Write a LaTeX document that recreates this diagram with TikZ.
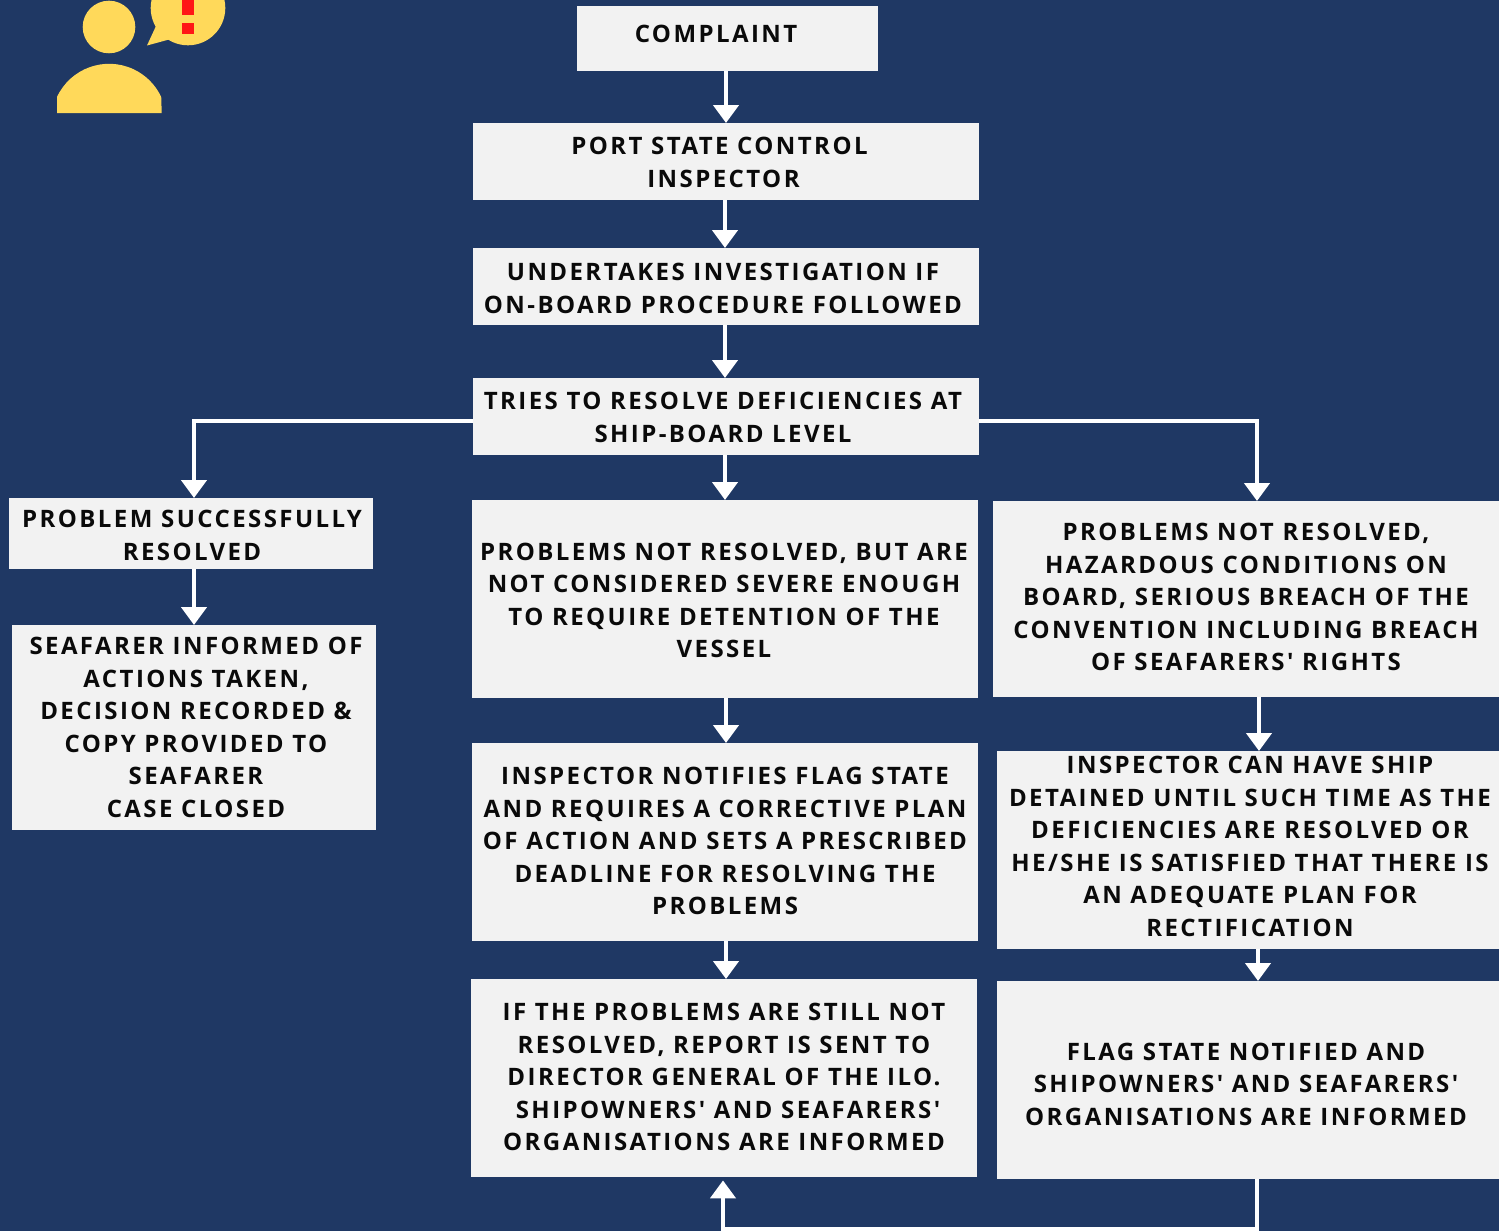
\documentclass[tikz,border=0pt]{standalone}
\usepackage{fontspec}
\setmainfont{Open Sans}[BoldFont={* Bold}]
\newfontfamily\lblfont{Open Sans Bold}[LetterSpace=10.1]
\usetikzlibrary{arrows.meta}
\definecolor{bgblue}{RGB}{31,56,100}
\definecolor{boxgrey}{RGB}{242,242,242}
\definecolor{iconyellow}{RGB}{255,217,90}
\definecolor{iconred}{RGB}{255,22,22}
\definecolor{inkblack}{RGB}{10,10,10}
\tikzset{
  boxnode/.style={fill=boxgrey,draw=none,inner sep=0pt,anchor=north west},
  txtnode/.style={text=inkblack,align=center,inner sep=0pt,yshift=-0.2pt,font=\lblfont\fontsize{24}{32.5}\selectfont},
  arr/.style={draw=white,line width=4.4pt,-{Triangle[width=25pt,length=18pt]}},
}
% name, x1, y1, x2, y2, text centre x, text centre y, text
\newcommand{\flowbox}[8]{%
  \pgfmathsetlengthmacro{\bw}{#4-#2}%
  \pgfmathsetlengthmacro{\bh}{#5-#3}%
  \node[boxnode,minimum width=\bw,minimum height=\bh] (#1) at (#2,#3) {};
  \node[txtnode] (#1-text) at (#6,#7) {#8};
}
\begin{document}
\begin{tikzpicture}[x=1pt,y=-1pt]
\useasboundingbox (0,0) rectangle (1499,1231);
\fill[bgblue] (0,0) rectangle (1499,1231);
% icon
\begin{scope}
\clip (0,0) rectangle (1499,1231);
\fill[iconyellow] (109,27) circle[radius=26.3];
\fill[iconyellow] (57,113) -- (57,97) arc[start angle=-155,end angle=-25,x radius=57.5,y radius=57.5] -- (161.7,113) -- cycle;
\fill[iconyellow] (188,8) circle[radius=37.3];
\fill[iconyellow] (156,26) -- (147,45.5) -- (169,39.5) -- cycle;
\fill[iconred] (182,0) rectangle (194,15.5);
\fill[iconred] (182,23) rectangle (194,34.5);
\end{scope}
% boxes
\flowbox{complaint}{577}{6}{878}{71}{716}{34}{COMPLAINT}
\flowbox{psc}{473}{123}{979}{200}{719.5}{162}{PORT STATE CONTROL\\\hspace*{8pt}INSPECTOR}
\flowbox{investigate}{473}{248}{979}{325}{723}{288}{UNDERTAKES INVESTIGATION IF\\ON-BOARD PROCEDURE FOLLOWED}
\flowbox{tries}{473}{378}{979}{455}{723}{417}{TRIES TO RESOLVE DEFICIENCIES AT\\SHIP-BOARD LEVEL}
\flowbox{solved}{9}{498}{373}{569}{192}{535}{PROBLEM SUCCESSFULLY\\RESOLVED}
\flowbox{informed}{12}{625}{376}{830}{196}{727}{SEAFARER INFORMED OF\\ACTIONS TAKEN,\\DECISION RECORDED \&\\COPY PROVIDED TO\\SEAFARER\\CASE CLOSED}
\flowbox{notsevere}{472}{500}{978}{698}{724}{600}{PROBLEMS NOT RESOLVED, BUT ARE\\NOT CONSIDERED SEVERE ENOUGH\\TO REQUIRE DETENTION OF THE\\VESSEL}
\flowbox{notifies}{472}{743}{978}{941}{725}{841}{INSPECTOR NOTIFIES FLAG STATE\\AND REQUIRES A CORRECTIVE PLAN\\OF ACTION AND SETS A PRESCRIBED\\DEADLINE FOR RESOLVING THE\\PROBLEMS}
\flowbox{report}{471}{979}{977}{1177}{724}{1077}{IF THE PROBLEMS ARE STILL NOT\\RESOLVED, REPORT IS SENT TO\\DIRECTOR GENERAL OF THE ILO.\\\hspace*{8pt}SHIPOWNERS' AND SEAFARERS'\\ORGANISATIONS ARE INFORMED}
\flowbox{hazard}{993}{501}{1499}{697}{1246}{597}{PROBLEMS NOT RESOLVED,\\HAZARDOUS CONDITIONS ON\\BOARD, SERIOUS BREACH OF THE\\CONVENTION INCLUDING BREACH\\OF SEAFARERS' RIGHTS}
\flowbox{detained}{997}{751}{1499}{949}{1250}{846}{INSPECTOR CAN HAVE SHIP\\DETAINED UNTIL SUCH TIME AS THE\\DEFICIENCIES ARE RESOLVED OR\\HE/SHE IS SATISFIED THAT THERE IS\\AN ADEQUATE PLAN FOR\\RECTIFICATION}
\flowbox{flagstate}{997}{981}{1499}{1179}{1246}{1084}{FLAG STATE NOTIFIED AND\\SHIPOWNERS' AND SEAFARERS'\\ORGANISATIONS ARE INFORMED}
% connectors
\coordinate (lefttop) at (194,421);
\coordinate (righttop) at (1257,421);
\coordinate (botright) at (1257,1229.5);
\coordinate (botleft) at (723,1229.5);
\draw[arr] (complaint.south -| 726,0) -- (psc.north -| 726,0);
\draw[arr] (psc.south -| 725,0) -- (investigate.north -| 725,0);
\draw[arr] (investigate.south -| 725,0) -- (tries.north -| 725,0);
\draw[arr] (tries.south -| 725,0) -- (notsevere.north -| 725,0);
\draw[arr] (tries.west |- lefttop) -- (lefttop) -- (solved.north -| lefttop);
\draw[arr] (tries.east |- righttop) -- (righttop) -- (hazard.north -| righttop);
\draw[arr] (solved.south -| 194,0) -- (informed.north -| 194,0);
\draw[arr] (notsevere.south -| 726,0) -- (notifies.north -| 726,0);
\draw[arr] (notifies.south -| 726,0) -- (report.north -| 726,0);
\draw[arr] (hazard.south -| 1259,0) -- (detained.north -| 1259,0);
\draw[arr] (detained.south -| 1258,0) -- (flagstate.north -| 1258,0);
\draw[arr] (flagstate.south -| botright) -- (botright) -- (botleft) -- ([yshift=-3pt]report.south -| botleft);
\end{tikzpicture}
\end{document}
